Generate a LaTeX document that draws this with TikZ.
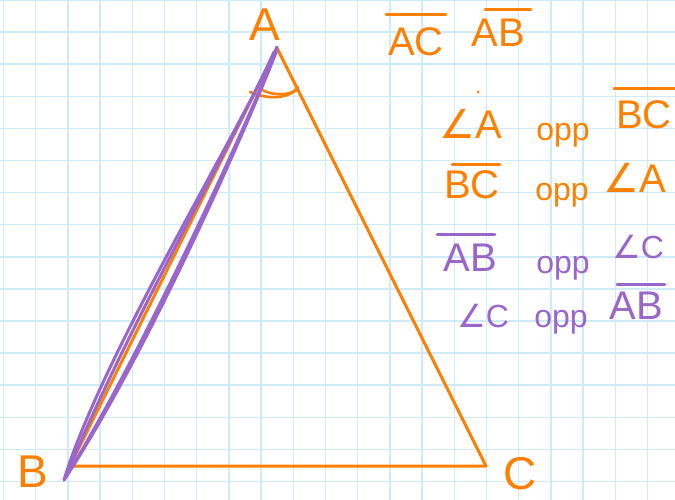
\documentclass[tikz,border=0pt]{standalone}
\usepackage{fontspec}
\setmainfont{Liberation Sans}
\newfontfamily\symfont{DejaVu Sans}
\definecolor{orng}{RGB}{255,128,0}
\definecolor{purp}{RGB}{153,102,204}
\definecolor{gridc}{RGB}{207,234,249}
\tikzset{
  gridline/.style={draw=gridc, line width=1.5pt},
  tri/.style={draw=orng, line width=3pt, line join=round, line cap=round},
  pur/.style={draw=purp, line width=3pt, line cap=round, line join=round},
  hw/.style={inner sep=0pt, font=\fontsize{40}{40}\selectfont},
  lbl/.style={inner sep=0pt, text=orng, font=\fontsize{46}{46}\selectfont},
  oppo/.style={inner sep=0pt, font=\fontsize{32}{32}\selectfont},
  ovo/.style={draw=orng, line width=3pt, line cap=round},
  ovp/.style={draw=purp, line width=3pt, line cap=round},
}
\begin{document}
\begin{tikzpicture}[x=1pt,y=-1pt]
\useasboundingbox[fill=white] (0,0) rectangle (675,500);
% grid
\foreach \k in {0,...,20} \draw[gridline] ({3.5+32.2*\k},0) -- ({3.5+32.2*\k},500);
\foreach \k in {0,...,15} \draw[gridline] (0,{32.1*\k}) -- (675,{32.1*\k});
% vertices
\coordinate (A) at (277,48);
\coordinate (B) at (70,466);
\coordinate (C) at (486,466);
\draw[tri] (A) -- (C) -- (B) -- cycle;
% angle mark at A
\draw[tri, line width=2.6pt] (250,92) .. controls (268,100) and (290,99) .. (298,87);
\draw[tri, line width=2.6pt] (258,85) .. controls (262,95) and (287,97) .. (297,90);
% purple strokes over AB
\draw[pur] (277,47) .. controls (240,130) and (100,360) .. (64,480);
\draw[pur] (64,480) .. controls (150,350) and (250,120) .. (277,50);
\draw[pur] (274,52) .. controls (232,145) and (118,345) .. (66,477);
\draw[pur] (67,475) .. controls (138,360) and (238,145) .. (275,54);
% vertex labels
\node[lbl] (la) at (265,25) {A};
\node[lbl] (lb) at (33,472) {B};
\node[lbl] (lc) at (520,474) {C};
% line 0
\node[hw, text=orng] (ac0) at (416,42) {AC};
\draw[ovo] ([yshift=13,xshift=-2]ac0.north west) -- ([yshift=13,xshift=2]ac0.north east);
\node[hw, text=orng] (ab0) at (498,33) {AB};
\draw[ovo] ([yshift=10,xshift=14]ab0.north west) -- ([yshift=10,xshift=6]ab0.north east);
% line 1
\node[hw, text=orng] (a1) at (471,124) {{\symfont ∠}A};
\fill[orng] (478,92) circle (1.5);
\node[oppo, text=orng] (o1) at (563,135) {opp};
\node[hw, text=orng] (bc1) at (644,115) {BC};
\draw[ovo] ([yshift=12,xshift=-2]bc1.north west) -- ([yshift=12,xshift=4]bc1.north east);
% line 2
\node[hw, text=orng] (bc2) at (472,185) {BC};
\draw[ovo] ([yshift=6,xshift=8]bc2.north west) -- ([yshift=6]bc2.north east);
\node[oppo, text=orng] (o2) at (562,195) {opp};
\node[hw, text=orng] (a2) at (635,178) {{\symfont ∠}A};
% line 3
\node[hw, text=purp] (ab3) at (470,258) {AB};
\draw[ovp] ([yshift=10,xshift=-6]ab3.north west) -- ([yshift=10,xshift=-2]ab3.north east);
\node[oppo, text=purp] (o3) at (563,268) {opp};
\node[hw, text=purp, font=\fontsize{32}{32}\selectfont] (c3) at (638,247) {{\symfont ∠}C};
% line 4
\node[hw, text=purp, font=\fontsize{32}{32}\selectfont] (c4) at (483,316) {{\symfont ∠}C};
\node[oppo, text=purp] (o4) at (561,322) {opp};
\node[hw, text=purp] (ab4) at (636,306) {AB};
\draw[ovp] ([yshift=8,xshift=8]ab4.north west) -- ([yshift=8,xshift=2]ab4.north east);
\end{tikzpicture}
\end{document}
